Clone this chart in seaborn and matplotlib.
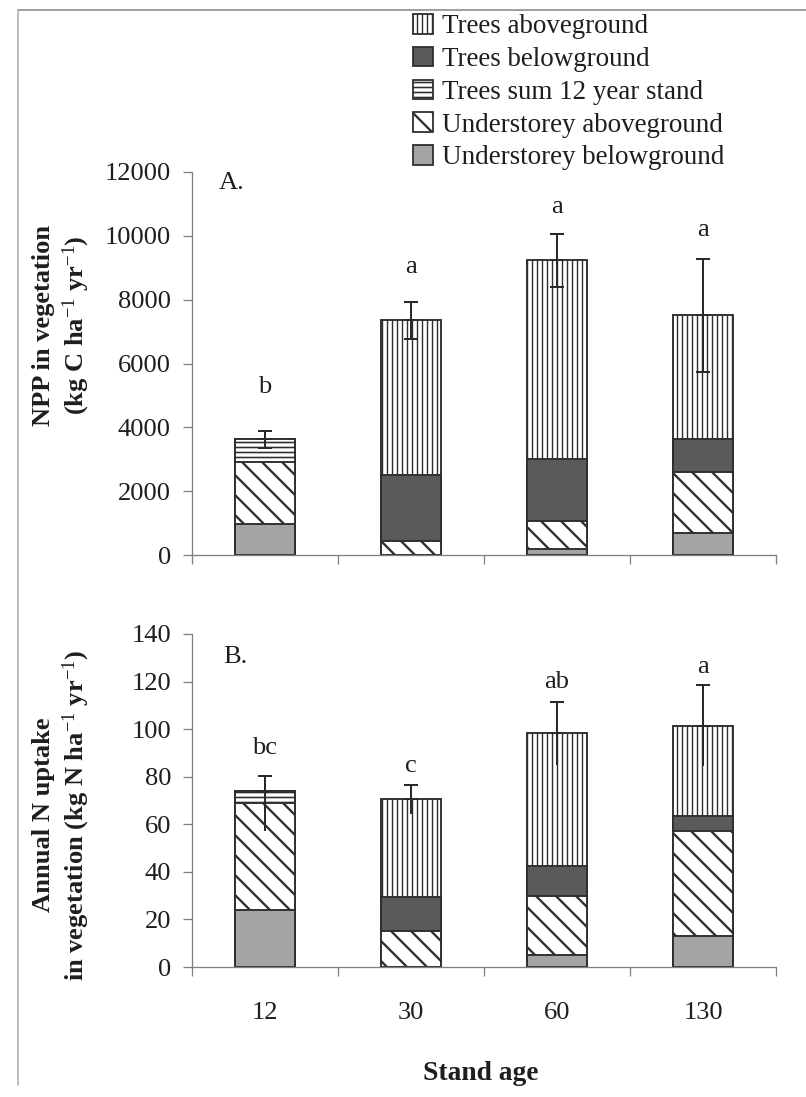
import numpy as np
import pandas as pd
import matplotlib
matplotlib.use("Agg")
import matplotlib.pyplot as plt
from matplotlib.patches import Patch
from matplotlib.lines import Line2D
import seaborn as sns

# ---------------- data ----------------
ages = ["12", "30", "60", "130"]
layer_names = ["Understorey belowground", "Understorey aboveground",
               "Trees sum 12 year stand", "Trees belowground", "Trees aboveground"]

# Panel A: NPP in vegetation (kg C ha-1 yr-1)
npp_und_below = [960, 0, 180, 700]
npp_und_above = [1960, 440, 885, 1910]
npp_trees_sum = [700, 0, 0, 0]
npp_trees_below = [0, 2070, 1945, 1010]
npp_trees_above = [0, 4860, 6235, 3885]
npp_err_minus = [275, 600, 835, 1760]
npp_err_plus = [275, 550, 825, 1760]
npp_letters = ["b", "a", "a", "a"]
npp_letter_y = [5270, 9010, 10910, 10180]

# Panel B: Annual N uptake in vegetation (kg N ha-1 yr-1)
n_und_below = [24, 0, 5, 13]
n_und_above = [45, 15, 25, 44]
n_trees_sum = [5, 0, 0, 0]
n_trees_below = [0, 14.5, 12.5, 6.3]
n_trees_above = [0, 41, 56, 38.2]
n_err_minus = [17, 6, 13.5, 17]
n_err_plus = [6.5, 6, 13, 17]
n_letters = ["bc", "c", "ab", "a"]
n_letter_y = [92, 84.3, 120, 126.3]

# ---------------- style ----------------
DPI = 120
PT = 72.0 / DPI          # points per pixel


def px(v):
    return v * PT


sns.set_theme(style="ticks")
plt.rcParams["font.family"] = ["Liberation Serif", "DejaVu Serif"]
plt.rcParams["mathtext.fontset"] = "custom"
plt.rcParams["mathtext.rm"] = "Liberation Serif"
plt.rcParams["mathtext.it"] = "Liberation Serif:italic"
plt.rcParams["mathtext.bf"] = "Liberation Serif:bold"
plt.rcParams["hatch.linewidth"] = px(1.7)

EDGE = "#2e2e2e"
TXT = "#1e1e1e"
AXC = "#808080"
# styles for layers bottom -> top: (facecolor, hatch, hatch linewidth px)
layer_styles = [("#a4a4a4", None, 1.5), ("white", "\\\\", 2.3),
                ("white", "----", 1.6), ("#5a5a5a", None, 1.5),
                ("white", "||||", 1.4)]

W, H = 806, 1097
fig = plt.figure(figsize=(W / DPI, H / DPI), dpi=DPI)
ax_left = 192 / W
ax_width = 584 / W
ax1 = fig.add_axes([ax_left, 1 - 555 / H, ax_width, (555 - 172) / H])
ax2 = fig.add_axes([ax_left, 1 - 967 / H, ax_width, (967 - 634) / H])

FS = px(26.5)


def set_hlw(patch, lw_px):
    if hasattr(patch, "set_hatch_linewidth"):
        try:
            patch.set_hatch_linewidth(px(lw_px))
        except Exception:
            pass


def draw_panel(ax, layers, err_minus, err_plus, letters, letter_y, ymax, ystep,
               panel_label, label_xy, show_xlabels, lower_caps):
    cum = np.cumsum(np.array(layers, dtype=float), axis=0)
    for k in reversed(range(len(layers))):
        fc, hatch, hlw = layer_styles[k]
        df = pd.DataFrame({"age": ages, "value": cum[k]})
        n0 = len(ax.patches)
        sns.barplot(data=df, x="age", y="value", order=ages, color=fc,
                    saturation=1, errorbar=None, width=0.41, edgecolor=EDGE,
                    linewidth=px(1.9), hatch=hatch, ax=ax, zorder=2)
        for p in ax.patches[n0:]:
            set_hlw(p, hlw)
    totals = cum[-1]
    xs = np.arange(len(ages))
    zeros = np.zeros(len(ages))
    # upper half with caps
    ax.errorbar(xs, totals, yerr=[zeros, err_plus], fmt="none",
                ecolor="#2a2a2a", elinewidth=px(2), capsize=px(7),
                capthick=px(2), zorder=5)
    # lower half
    ax.errorbar(xs, totals, yerr=[err_minus, zeros], fmt="none",
                ecolor="#2a2a2a", elinewidth=px(2),
                capsize=px(7) if lower_caps else 0, capthick=px(2), zorder=5)
    for i, (lt, ly) in enumerate(zip(letters, letter_y)):
        ax.text(i, ly, lt, ha="center", va="center", fontsize=FS, color=TXT)
    ax.text(label_xy[0], label_xy[1], panel_label, ha="center", va="center",
            fontsize=FS, color=TXT)

    ax.set_xlim(-0.5, len(ages) - 0.5)
    ax.set_ylim(0, ymax)
    ax.set_yticks(np.arange(0, ymax + 1, ystep))
    ax.set_xticks(np.arange(-0.5, len(ages), 1.0))
    ax.set_xticklabels([])
    ax.set_xticks(np.arange(len(ages)), minor=True)
    if show_xlabels:
        ax.set_xticklabels(ages, minor=True)
    else:
        ax.set_xticklabels([], minor=True)
    ax.tick_params(axis="x", which="major", length=px(9), width=px(1.3),
                   color=AXC)
    ax.tick_params(axis="x", which="minor", length=0, pad=px(35),
                   labelsize=FS, labelcolor=TXT)
    ax.tick_params(axis="y", length=px(9), width=px(1.3), color=AXC,
                   pad=px(12), labelsize=FS, labelcolor=TXT)
    ax.set_xlabel("")
    ax.set_ylabel("")
    for s in ["top", "right"]:
        ax.spines[s].set_visible(False)
    for s in ["left", "bottom"]:
        ax.spines[s].set_color(AXC)
        ax.spines[s].set_linewidth(px(1.3))
    ax.grid(False)


draw_panel(ax1, [npp_und_below, npp_und_above, npp_trees_sum,
                 npp_trees_below, npp_trees_above],
           npp_err_minus, npp_err_plus, npp_letters, npp_letter_y,
           12000, 2000, "A.", (-0.23, 11660), False, True)
draw_panel(ax2, [n_und_below, n_und_above, n_trees_sum,
                 n_trees_below, n_trees_above],
           n_err_minus, n_err_plus, n_letters, n_letter_y,
           140, 20, "B.", (-0.2, 130.5), True, False)

# y-axis titles (two lines each)
fig.text(44 / W, 1 - 325 / H, "NPP in vegetation", rotation=90, ha="center",
         va="center", fontsize=FS, fontweight="bold", color=TXT)
fig.text(76 / W, 1 - 325 / H, r"(kg C ha$^{-1}$ yr$^{-1}$)", rotation=90,
         ha="center", va="center", fontsize=FS, fontweight="bold", color=TXT)
fig.text(44 / W, 1 - 815 / H, "Annual N uptake", rotation=90, ha="center",
         va="center", fontsize=FS, fontweight="bold", color=TXT)
fig.text(76 / W, 1 - 815 / H, r"in vegetation (kg N ha$^{-1}$ yr$^{-1}$)",
         rotation=90, ha="center", va="center", fontsize=FS,
         fontweight="bold", color=TXT)

fig.text(481 / W, 1 - 1073 / H, "Stand age", ha="center", va="center",
         fontsize=px(27.5), fontweight="bold", color=TXT)

# legend
handles = []
for k in reversed(range(len(layer_names))):
    fc, hatch, hlw = layer_styles[k]
    h = Patch(facecolor=fc, edgecolor=EDGE, hatch=hatch,
              linewidth=px(1.8), label=layer_names[k])
    set_hlw(h, hlw)
    handles.append(h)
leg = fig.legend(handles=handles, loc="upper left",
                 bbox_to_anchor=(413 / W, 1 - 14 / H), frameon=False,
                 fontsize=px(27), handlelength=0.74, handleheight=0.74,
                 handletextpad=0.35, labelspacing=0.28, borderpad=0,
                 borderaxespad=0, labelcolor=TXT)
for hp, k in zip(leg.get_patches(), reversed(range(len(layer_names)))):
    set_hlw(hp, layer_styles[k][2])

# scan frame lines
fig.add_artist(Line2D([18 / W, 1], [1 - 10 / H, 1 - 10 / H],
                      transform=fig.transFigure, color="#a0a0a0", lw=px(2)))
fig.add_artist(Line2D([18 / W, 18 / W], [1 - 1085 / H, 1 - 10 / H],
                      transform=fig.transFigure, color="#b0b0b0", lw=px(1.6)))

fig.savefig("out.png", dpi=DPI, facecolor="white")
